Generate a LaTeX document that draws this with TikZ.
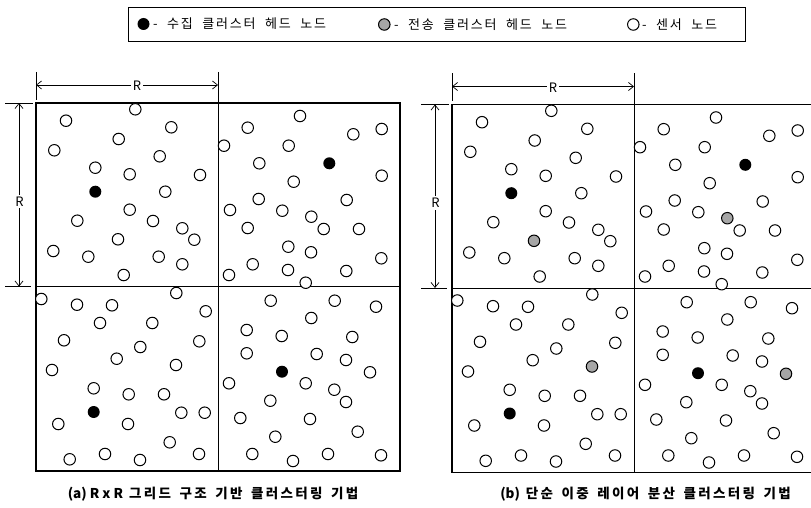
\documentclass[tikz,border=0pt]{standalone}
\usepackage{fontspec}
\newfontfamily\kr[LetterSpace=14,WordSpace=2]{Noto Sans CJK KR}
\newfontfamily\krcap[LetterSpace=17,WordSpace=1.6]{Noto Sans CJK KR}
\newfontfamily\krlat[LetterSpace=0]{Noto Sans CJK KR}
\usetikzlibrary{arrows.meta}
\def\commonlist{(135.3,109.3),(66,120.7),(171.3,127.3),(118.7,139),(54.3,150.3),(159.7,156.3),(95.3,167.7),(129.7,174.3),(200,175),(165.3,191.7),(129.7,209.7),(77.3,220.7),(153,221),(182.3,228.3),(194.3,239.7),(53.3,251),(88.3,256.7),(158.7,256.7),(182.3,264.3),(123.7,275),
(300,116),(247.7,127.7),(353.3,134.3),(381.7,129),(224,145.7),(288.7,145.7),(259.3,163.3),(381.7,175.7),(293.7,181.7),(258.7,199),(346.7,200),(230,210),(282.3,210.7),(323.7,229),(359,229),(247.7,228),(288.3,246.7),(311,252.3),(381.3,258.3),(252.7,264.3),(229,275),(288,270),(346.3,271),(305.7,282.7),
(41.3,299),(77,304.7),(112,305.3),(176.3,293),(205.7,311.3),(100,323),(152.3,323),(64,340.3),(199.3,341.3),(140.3,347),(116.7,358.7),(52,370),(93.7,388.3),(128.7,394.3),(164,394.3),(58.3,424),(128,424),(181.3,412.7),(204.7,412.7),(169.7,442.3),(69.7,459.3),(105,454),(140,460),(199,454),
(270.7,300.7),(334.7,300.7),(376,306.7),(311.3,318),(246.7,330),(281.7,336),(352.3,337),(246.7,353.3),(316.7,354),(346,360),(229,383.3),(305.7,383.3),(334.3,389.7),(346,402),(270.3,400.7),(240.3,418),(310,419),(357.7,431.7),(275.3,436.7),(252.3,454),(293,461),(328,454),(381,455.3)}
\def\headlist{(95.3,191.7),(329.3,163.3),(93.7,412),(282,371.7)}
\def\extralist{(118,239.3),(311.3,216.7),(176,365),(370,372.3)}
\begin{document}
\begin{tikzpicture}[x=1pt,y=-1pt,
  sensor/.style={circle,draw=black,line width=1pt,minimum size=11.5pt,inner sep=0pt,fill=white},
  chead/.style={circle,fill=black,minimum size=12pt,inner sep=0pt},
  thead/.style={circle,draw=black,line width=1pt,fill=black!35,minimum size=11.5pt,inner sep=0pt},
  frame/.style={line width=1.8pt},
  divider/.style={line width=0.8pt},
  extline/.style={line width=0.6pt},
  dimarrow/.style={line width=0.7pt,{Straight Barb[length=5pt,width=8pt]}-{Straight Barb[length=5pt,width=8pt]}},
  dimlabel/.style={font=\fontsize{13}{15}\selectfont\krlat,fill=white,inner sep=2pt},
  legtext/.style={font=\fontsize{13}{15}\selectfont\kr,anchor=west,inner sep=0pt},
  caption/.style={font=\fontsize{13.5}{16}\selectfont\bfseries,inner sep=0pt}]
\useasboundingbox (0,0) rectangle (811,508);
\clip (0,0) rectangle (811,508);

% legend
\node[draw=black,line width=0.8pt,minimum width=617pt,minimum height=34pt,anchor=north west,inner sep=0pt] (legend) at (128,7) {};
\node[chead] (lg1) at (143.5,24) {};
\node[legtext] (lt1) at (153,24) {- 수집 클러스터 헤드 노드};
\node[thead] (lg2) at (384.3,24.5) {};
\node[legtext] (lt2) at (394,24.5) {- 전송 클러스터 헤드 노드};
\node[sensor] (lg3) at (633.3,24.5) {};
\node[legtext] (lt3) at (642,24.5) {- 센서 노드};

% two grids
\foreach \pre/\dx/\dy/\kind in {A/0/0/sensor,B/416/1.5/thead}{
\begin{scope}[shift={(\dx,\dy)}]
  \coordinate (\pre-nw) at (36,103);
  \coordinate (\pre-ne) at (400,103);
  \coordinate (\pre-sw) at (36,471);
  \coordinate (\pre-se) at (400,471);
  \coordinate (\pre-n) at (218,103);
  \coordinate (\pre-s) at (218,471);
  \coordinate (\pre-w) at (36,286.5);
  \coordinate (\pre-e) at (400,286.5);
  \draw[divider] (\pre-n) -- (\pre-s);
  \draw[divider] (\pre-w) -- (\pre-e);
  \draw[frame] (\pre-nw) rectangle (\pre-se);
  % dimension lines
  \coordinate (\pre-x1) at (36,72);
  \coordinate (\pre-x2) at (218,72);
  \coordinate (\pre-y1) at (5,103);
  \coordinate (\pre-y2) at (5,286.5);
  \draw[extline] (\pre-x1) -- ++(0,28);
  \draw[extline] (\pre-x2) -- (\pre-n);
  \draw[extline] (\pre-y1) -- ++(28,0);
  \draw[extline] (\pre-y2) -- ++(26,0);
  \coordinate (\pre-ha) at (36,85);
  \coordinate (\pre-hb) at (218,85);
  \coordinate (\pre-va) at (19,103);
  \coordinate (\pre-vb) at (19,286.5);
  \draw[dimarrow] (\pre-ha) -- (\pre-hb);
  \draw[dimarrow] (\pre-va) -- (\pre-vb);
  \node[dimlabel] (\pre-hl) at (137,86) {R};
  \node[dimlabel] (\pre-vl) at (19.5,201.5) {R};
  % nodes
  \foreach \p [count=\i] in \commonlist { \node[sensor] (\pre-s\i) at \p {}; }
  \foreach \p [count=\i] in \extralist { \node[\kind] (\pre-t\i) at \p {}; }
  \foreach \p [count=\i] in \headlist { \node[chead] (\pre-h\i) at \p {}; }
\end{scope}
}

% captions
\node[caption] (capA) at (213,494) {\krlat (a) R x R\hspace{6pt}\krcap 그리드 구조 기반 클러스터링 기법};
\node[caption] (capB) at (645.5,494) {\krlat (b)\hspace{6pt}\krcap 단순 이중 레이어 분산 클러스터링 기법};
\end{tikzpicture}
\end{document}
